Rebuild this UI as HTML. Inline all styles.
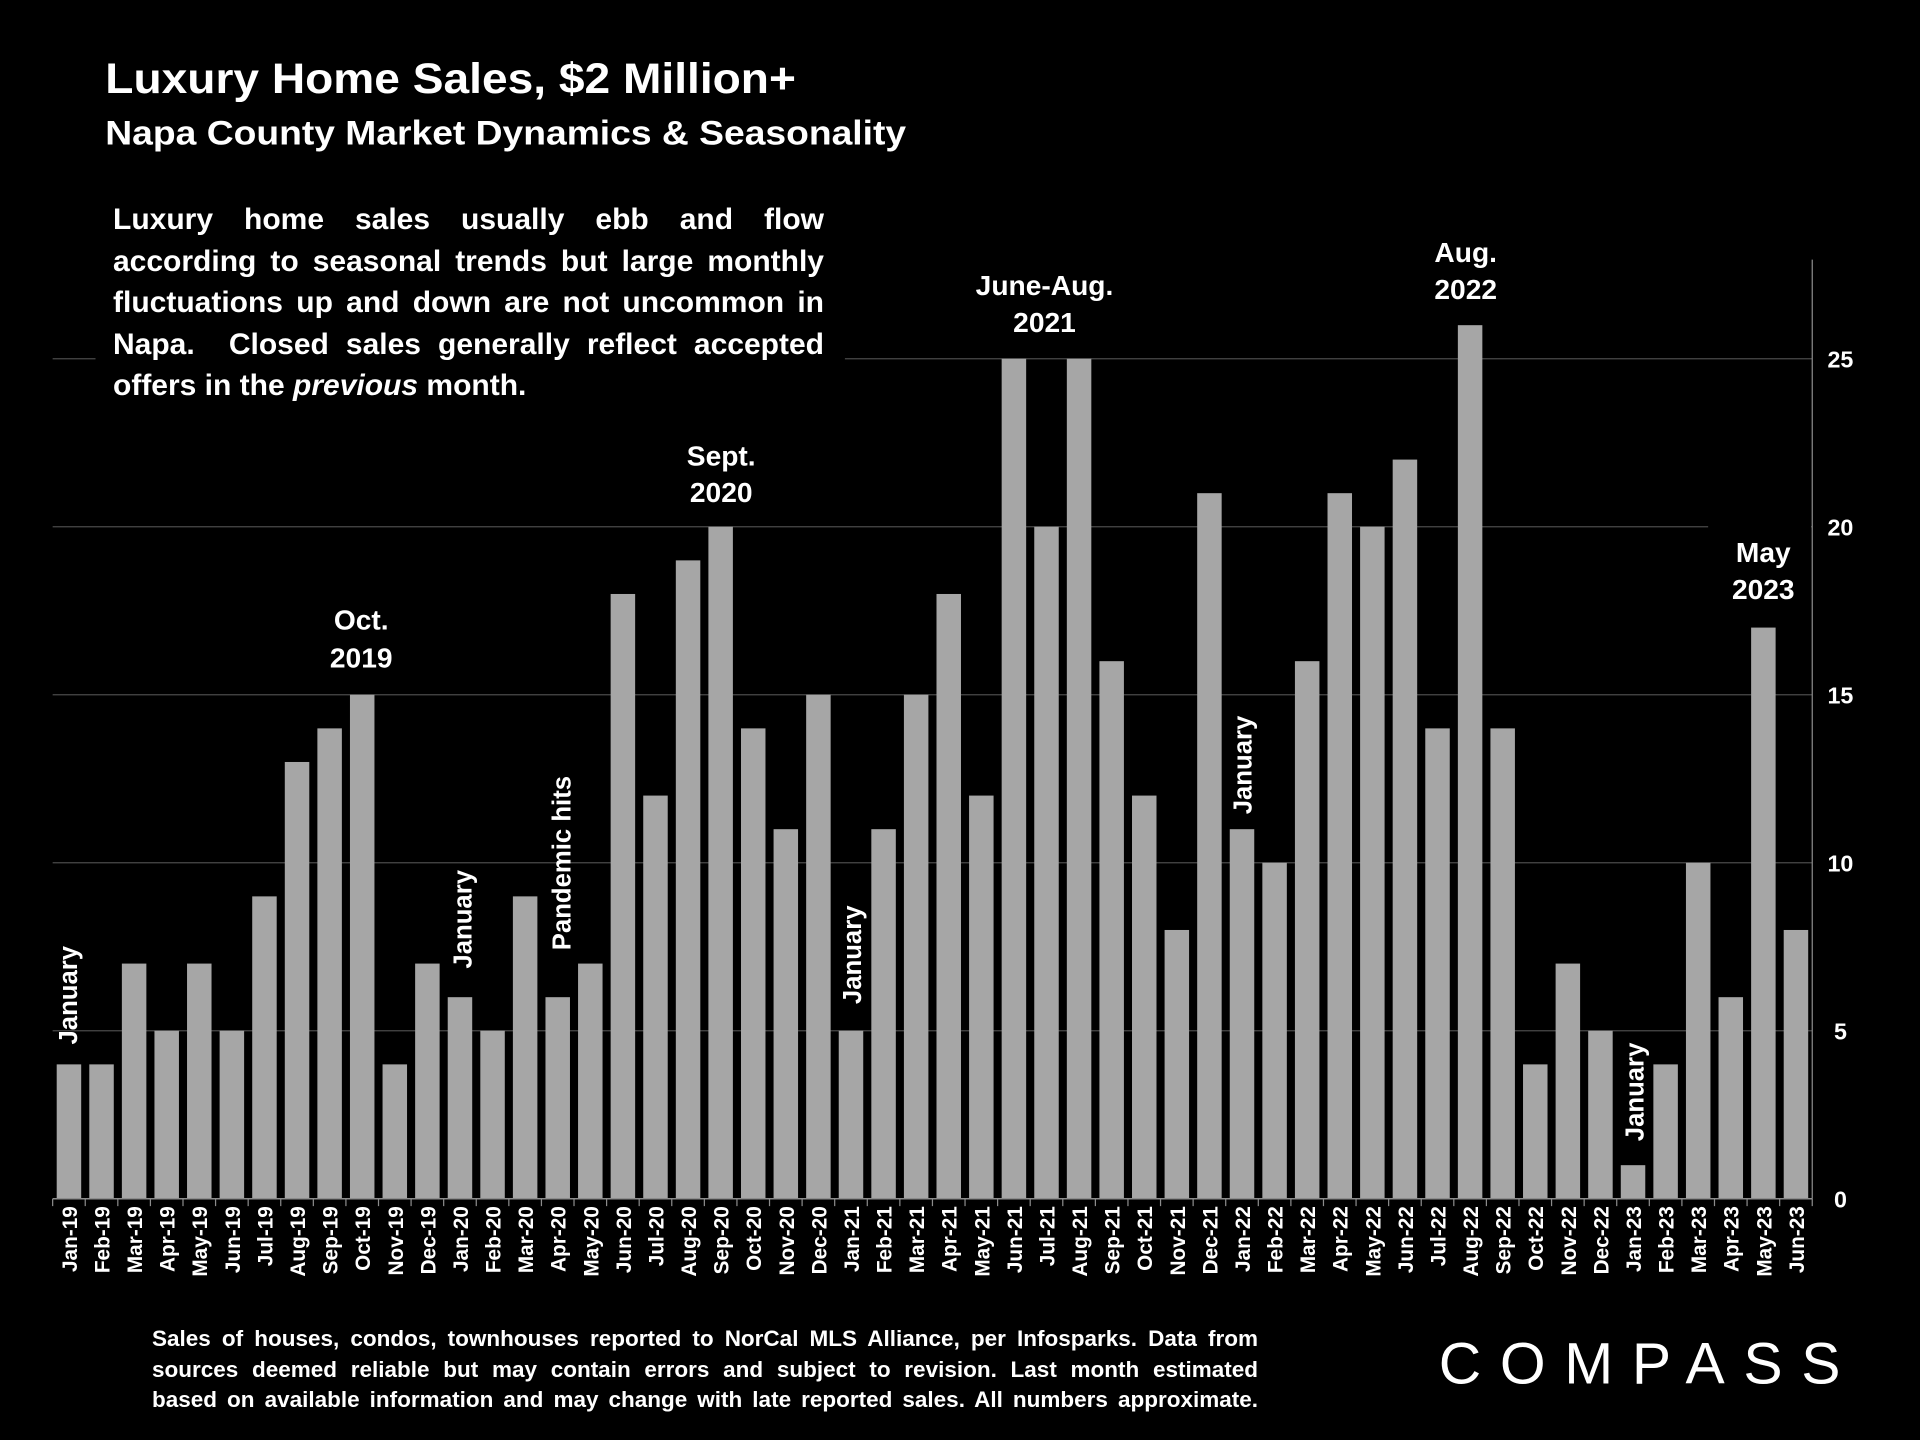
<!DOCTYPE html>
<html><head><meta charset="utf-8"><style>
html,body{margin:0;padding:0;background:#000;}
body{position:relative;width:1920px;height:1440px;overflow:hidden;}
svg{display:block;position:absolute;left:0;top:0;}
text{font-family:"Liberation Sans",sans-serif;font-weight:bold;fill:#fff;}
.para{position:absolute;font-family:"Liberation Sans",sans-serif;font-weight:bold;color:#fff;}
.para div{text-align:justify;text-align-last:justify;white-space:nowrap;}
.para div.last{text-align-last:left;}
</style></head><body>
<svg id="chart" width="1920" height="1440" viewBox="0 0 1568 1176" xmlns="http://www.w3.org/2000/svg">
<rect x="0" y="0" width="1568" height="1176" fill="#000"/>
<g id="grid"></g>
<rect x="78" y="160" width="612" height="172" fill="#000"/>
<rect x="1395" y="424" width="84" height="78" fill="#000"/>
<g id="bars"></g>
<g id="axes"></g>
<text x="86" y="76" font-size="35" textLength="564" lengthAdjust="spacingAndGlyphs">Luxury Home Sales, $2 Million+</text>
<text x="86" y="118" font-size="28" textLength="654" lengthAdjust="spacingAndGlyphs">Napa County Market Dynamics &amp; Seasonality</text>
<g font-size="23" text-anchor="middle">
<text x="295" y="514">Oct.</text><text x="295" y="545">2019</text>
<text x="589" y="380">Sept.</text><text x="589" y="410">2020</text>
<text x="853" y="241">June-Aug.</text><text x="853" y="271">2021</text>
<text x="1197" y="214">Aug.</text><text x="1197" y="244">2022</text>
<text x="1440" y="459">May</text><text x="1440" y="489">2023</text>
</g>
<g font-size="21">
<text transform="translate(63,853) rotate(-90)">January</text>
<text transform="translate(385,791) rotate(-90)">January</text>
<text transform="translate(466,776) rotate(-90)">Pandemic hits</text>
<text transform="translate(703,820) rotate(-90)">January</text>
<text transform="translate(1022,665) rotate(-90)">January</text>
<text transform="translate(1342,932) rotate(-90)">January</text>
</g>
<text x="1175" y="1130" font-size="48" textLength="328" lengthAdjust="spacing" style="font-weight:normal">COMPASS</text>
</svg>
<div class="para" style="left:113px;top:199px;width:711px;font-size:30px;line-height:41.6px;">
<div>Luxury home sales usually ebb and flow</div>
<div>according to seasonal trends but large monthly</div>
<div>fluctuations up and down are not uncommon in</div>
<div>Napa.&nbsp; Closed sales generally reflect accepted</div>
<div class="last">offers in the <i>previous</i> month.</div>
</div>
<div class="para" style="left:152px;top:1324px;width:1106px;font-size:22.5px;line-height:30.6px;">
<div>Sales of houses, condos, townhouses reported to NorCal MLS Alliance, per Infosparks. Data from</div>
<div>sources deemed reliable but may contain errors and subject to revision. Last month estimated</div>
<div>based on available information and may change with late reported sales. All numbers approximate.</div>
</div>
<script>
const categories=["Jan-19","Feb-19","Mar-19","Apr-19","May-19","Jun-19","Jul-19","Aug-19","Sep-19","Oct-19","Nov-19","Dec-19","Jan-20","Feb-20","Mar-20","Apr-20","May-20","Jun-20","Jul-20","Aug-20","Sep-20","Oct-20","Nov-20","Dec-20","Jan-21","Feb-21","Mar-21","Apr-21","May-21","Jun-21","Jul-21","Aug-21","Sep-21","Oct-21","Nov-21","Dec-21","Jan-22","Feb-22","Mar-22","Apr-22","May-22","Jun-22","Jul-22","Aug-22","Sep-22","Oct-22","Nov-22","Dec-22","Jan-23","Feb-23","Mar-23","Apr-23","May-23","Jun-23"];
const sales=[4,4,7,5,7,5,9,13,14,15,4,7,6,5,9,6,7,18,12,19,20,14,11,15,5,11,15,18,12,25,20,25,16,12,8,21,11,10,16,21,20,22,14,26,14,4,7,5,1,4,10,6,17,8];
const yTicks=[0,5,10,15,20,25];
const NS="http://www.w3.org/2000/svg";
const plotL=43,plotR=1480,y0=979,yTop=212,unit=27.44;
const band=(plotR-plotL)/categories.length;
function xOf(i){return plotL+band*(i+0.5);}
function yOf(v){return y0-v*unit;}
function mk(tag,attrs,parent){const e=document.createElementNS(NS,tag);for(const k in attrs)e.setAttribute(k,attrs[k]);parent.appendChild(e);return e;}
const grid=document.getElementById('grid'),bars=document.getElementById('bars'),axes=document.getElementById('axes');
yTicks.forEach(t=>{
  if(t>0){const l=mk('line',{x1:plotL,x2:plotR,y1:yOf(t),y2:yOf(t),stroke:'#4a4a4a','stroke-width':1},grid);
  
  }
  const tx=mk('text',{x:1503,y:yOf(t)+7,'font-size':19,'text-anchor':'middle'},axes);
  tx.textContent=t;
  
  
});
sales.forEach((v,i)=>{
  const r=mk('rect',{x:xOf(i)-10,y:yOf(v),width:20,height:v*unit,fill:'#a6a6a6'},bars);
  
  
});
const ax=mk('line',{x1:plotL,x2:plotR,y1:y0,y2:y0,stroke:'#8c8c8c','stroke-width':1.2},axes);


const ay=mk('line',{x1:plotR,x2:plotR,y1:yTop,y2:y0,stroke:'#8c8c8c','stroke-width':1},axes);


for(let i=0;i<=categories.length;i++){
  const x=plotL+band*i;
  mk('line',{x1:x,x2:x,y1:y0,y2:y0+6,stroke:'#8c8c8c','stroke-width':1},axes);
}
categories.forEach((c,i)=>{
  const t=mk('text',{transform:`translate(${xOf(i)+6.5},${y0+6}) rotate(-90)`,'font-size':17,'text-anchor':'end'},axes);
  t.textContent=c;
  
  
});
</script>
</body></html>
